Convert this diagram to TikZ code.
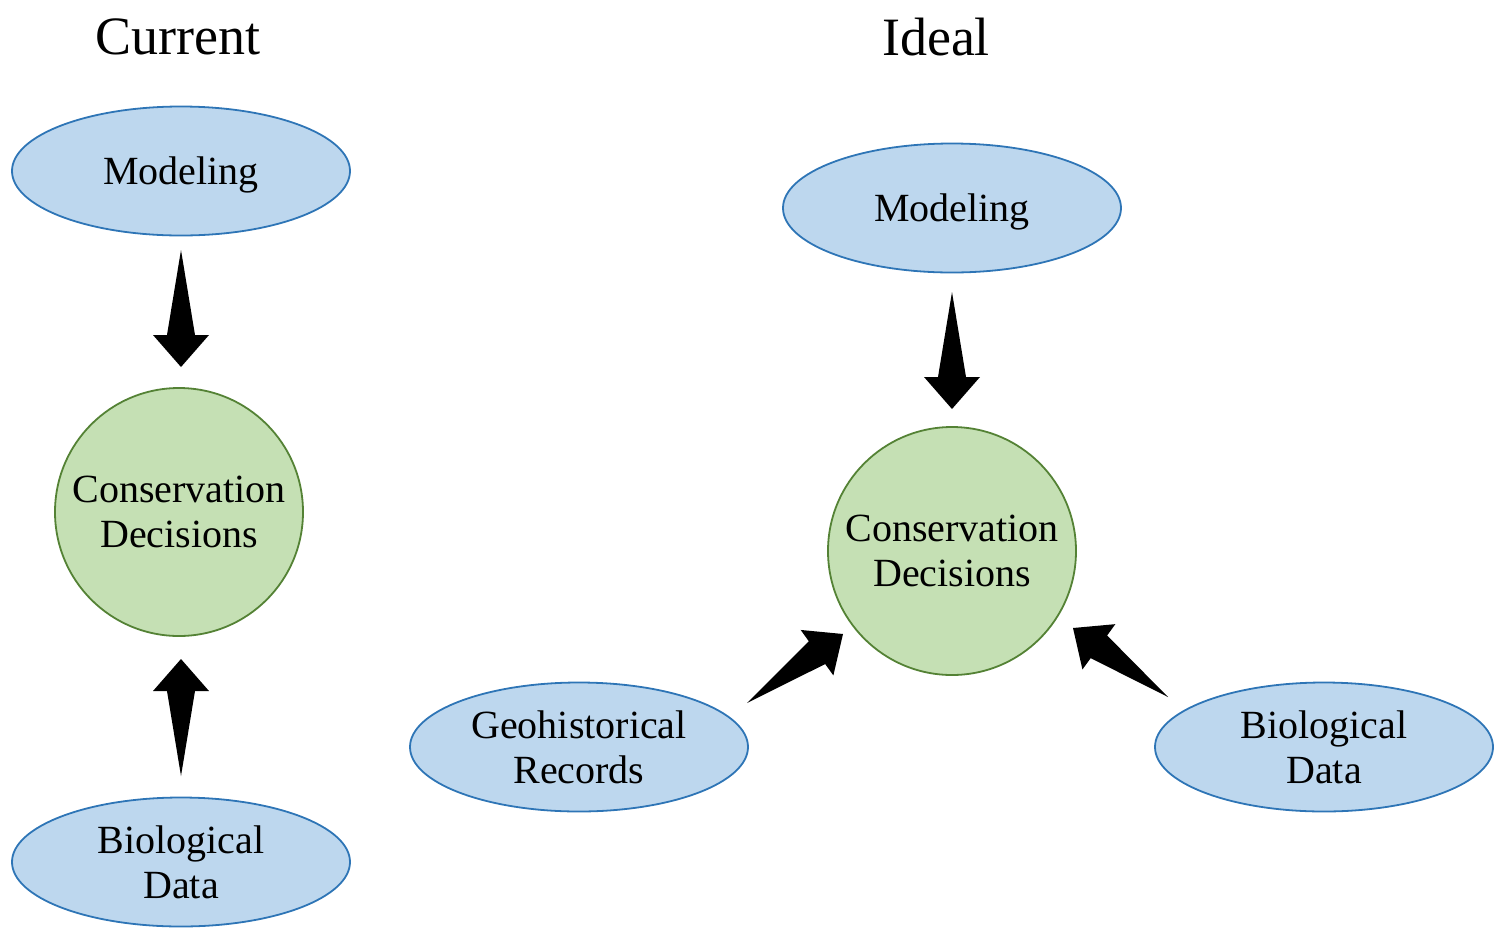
\documentclass[tikz,border=0pt]{standalone}
\usepackage{fontspec}
\setmainfont{Liberation Serif}
\usetikzlibrary{shapes.geometric,calc}
\definecolor{ellfill}{HTML}{BDD7EE}
\definecolor{elldraw}{HTML}{2E75B6}
\definecolor{cirfill}{HTML}{C5E0B4}
\definecolor{cirdraw}{HTML}{548235}
\newcommand{\fatarrow}[2]{%
  \coordinate (hb) at ($(#2)!16pt!(#1)$);
  \fill[black] (#1) -- ($(hb)!7pt!90:(#2)$) -- ($(hb)!14pt!90:(#2)$) -- (#2)
     -- ($(hb)!14pt!-90:(#2)$) -- ($(hb)!7pt!-90:(#2)$) -- cycle;}
\begin{document}
\begin{tikzpicture}[x=0.5pt,y=-0.5pt,
  txt/.style={font=\fontsize{20}{22.5}\selectfont, align=center, text=black},
  ttl/.style={font=\fontsize{27}{30}\selectfont, text=black},
  ell/.style={txt, ellipse, draw=elldraw, fill=ellfill, line width=0.9pt,
     minimum width=169pt, minimum height=64.5pt, inner sep=0pt, text depth=0pt},
  cir/.style={txt, circle, draw=cirdraw, fill=cirfill, line width=0.9pt,
     minimum size=124pt, inner sep=0pt}]
\useasboundingbox (0,0) rectangle (1500,938);
% left
\node[ttl] (t1) at (178,37) {Current};
\node[ell] (m1) at (181,171) {Modeling};
\node[cir] (c1) at (179,512) {Conservation\\Decisions};
\node[ell] (b1) at (181,862) {Biological\\Data};
% right
\node[ttl] (t2) at (936,37) {Ideal};
\node[ell] (m2) at (952,208) {Modeling};
\node[cir] (c2) at (952,551) {Conservation\\Decisions};
\node[ell] (g2) at (579,747) {Geohistorical\\Records};
\node[ell] (b2) at (1324,747) {Biological\\Data};
% arrow endpoints
\coordinate (a1s) at (181,250);  \coordinate (a1e) at (181,367);
\coordinate (a2s) at (181,776);  \coordinate (a2e) at (181,659);
\coordinate (a3s) at (952,292);  \coordinate (a3e) at (952,409);
\coordinate (a4s) at (747,703);  \coordinate (a4e) at (843,634);
\coordinate (a5s) at (1168,697); \coordinate (a5e) at (1073,628);
\fatarrow{a1s}{a1e}
\fatarrow{a2s}{a2e}
\fatarrow{a3s}{a3e}
\fatarrow{a4s}{a4e}
\fatarrow{a5s}{a5e}
\end{tikzpicture}
\end{document}
